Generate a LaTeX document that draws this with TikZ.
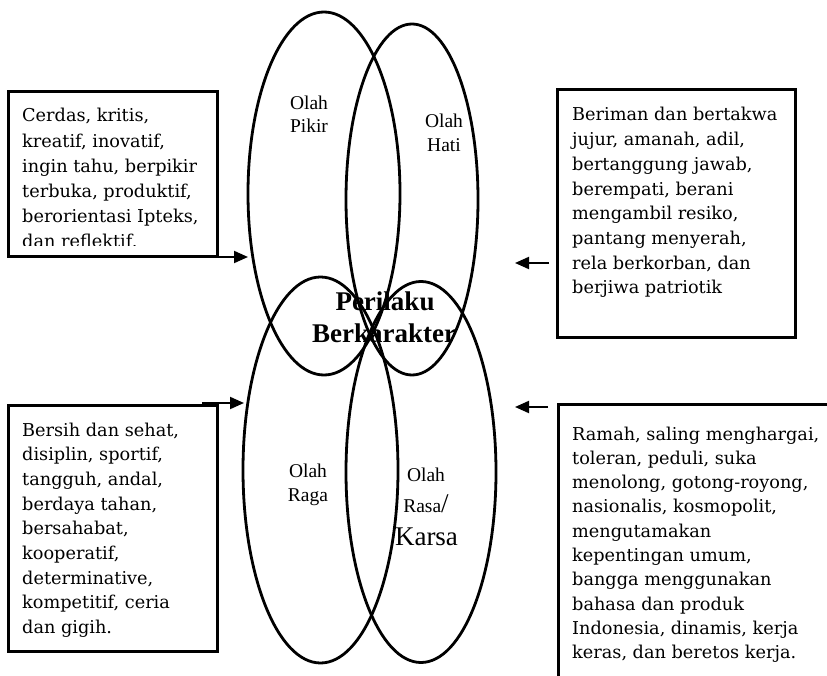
\documentclass[tikz,border=0pt]{standalone}
\usepackage{fontspec}
\newfontfamily\boxfont{DejaVu Serif}
\newfontfamily\labelfont{Liberation Serif}
\usepackage{tikz}
\usetikzlibrary{arrows.meta}
\usetikzlibrary{shapes.geometric}

\tikzset{
  venn/.style={ellipse,draw,line width=2.8pt,inner sep=0pt,outer sep=0pt},
  infobox/.style={draw,line width=3pt,anchor=north west,inner sep=0pt,outer sep=0pt},
  boxtext/.style={anchor=base west,inner sep=0pt,font=\boxfont\fontsize{17.7}{20}\selectfont},
  olah/.style={anchor=base,inner sep=0pt,font=\labelfont\fontsize{19.5}{20}\selectfont},
  pointer/.style={->,line width=2pt},
}

\begin{document}
\begin{tikzpicture}[x=1pt,y=-1pt,>={Triangle[length=14pt,width=12pt]}]
  \useasboundingbox (0,0) rectangle (827,676);
  \clip (0,0) rectangle (827,676);

  % four overlapping ellipses
  \node [venn,minimum width=152pt,minimum height=363pt] (pikir) at (324,193.5) {};
  \node [venn,minimum width=132pt,minimum height=351pt] (hati)  at (412,199.5) {};
  \node [venn,minimum width=155pt,minimum height=386pt] (raga)  at (320.5,470) {};
  \node [venn,minimum width=150pt,minimum height=381pt] (rasa)  at (421,472) {};

  % labels inside the ellipses
  \node [olah] (pikir-1) at (309,110) {Olah};
  \node [olah] (pikir-2) at (309,133) {Pikir};
  \node [olah] (hati-1)  at (444,128) {Olah};
  \node [olah] (hati-2)  at (444,152) {Hati};
  \node [olah] (raga-1)  at (308,477) {Olah};
  \node [olah] (raga-2)  at (308,501) {Raga};
  \node [olah] (rasa-1)  at (426,481) {Olah};
  \node [olah] (rasa-2)  at (426,512) {Rasa{\fontsize{27}{27}\selectfont/}};
  \node [olah,font=\labelfont\fontsize{27}{27}\selectfont] (rasa-3) at (426.5,545) {Karsa};

  \node [olah,font=\labelfont\bfseries\fontsize{27}{27}\selectfont] (center-1) at (385,310) {Perilaku};
  \node [olah,font=\labelfont\bfseries\fontsize{27}{27}\selectfont] (center-2) at (384,342) {Berkarakter};

  % the four boxes
  \node [infobox,minimum width=209pt,minimum height=165pt] (cerdas) at (8,92) {};
  \node [infobox,minimum width=238pt,minimum height=247pt] (beriman) at (557,90) {};
  \node [infobox,minimum width=209pt,minimum height=246pt] (bersih) at (8,405) {};
  \node [infobox,minimum width=300pt,minimum height=300pt] (ramah) at (558,404) {};

  \begin{scope}
    \clip (8,92) rectangle (217,246);
    \foreach \txt [count=\i] in {{Cerdas, kritis,},{kreatif, inovatif,},{ingin tahu, berpikir},
      {terbuka, produktif,},{berorientasi Ipteks,},{dan reflektif.}}
      \node [boxtext] (cerdas-\i) at (22,122+25.2*\i-25.2) {\txt};
  \end{scope}

  \foreach \txt [count=\i] in {{Beriman dan bertakwa},{jujur, amanah, adil,},{bertanggung jawab,},
    {berempati, berani},{mengambil resiko,},{pantang menyerah,},{rela berkorban, dan},{berjiwa patriotik}}
    \node [boxtext] (beriman-\i) at (572,121+24.7*\i-24.7) {\txt};

  \foreach \txt [count=\i] in {{Bersih dan sehat,},{disiplin, sportif,},{tangguh, andal,},
    {berdaya tahan,},{bersahabat,},{kooperatif,},{determinative,},{kompetitif, ceria},{dan gigih.}}
    \node [boxtext] (bersih-\i) at (22,436+24.7*\i-24.7) {\txt};

  \foreach \txt [count=\i] in {{Ramah, saling menghargai,},{toleran, peduli, suka},
    {menolong, gotong-royong,},{nasionalis, kosmopolit,},{mengutamakan},{kepentingan umum,},
    {bangga menggunakan},{bahasa dan produk},{Indonesia, dinamis, kerja},{keras, dan beretos kerja.}}
    \node [boxtext] (ramah-\i) at (572,440+24.3*\i-24.3) {\txt};

  % arrows
  \coordinate (pikirtip) at (248,257);
  \coordinate (berimantail) at (549,263);
  \coordinate (hatitip) at (515,263);
  \coordinate (bersihtail) at (202,403);
  \coordinate (ragatip) at (244,403);
  \coordinate (ramahtail) at (548,407);
  \coordinate (rasatip) at (515,407);

  \draw [pointer] (cerdas.south east) -- (pikirtip);
  \draw [pointer] (berimantail) -- (hatitip);
  \draw [pointer] (bersihtail) -- (ragatip);
  \draw [pointer] (ramahtail) -- (rasatip);

\end{tikzpicture}
\end{document}
